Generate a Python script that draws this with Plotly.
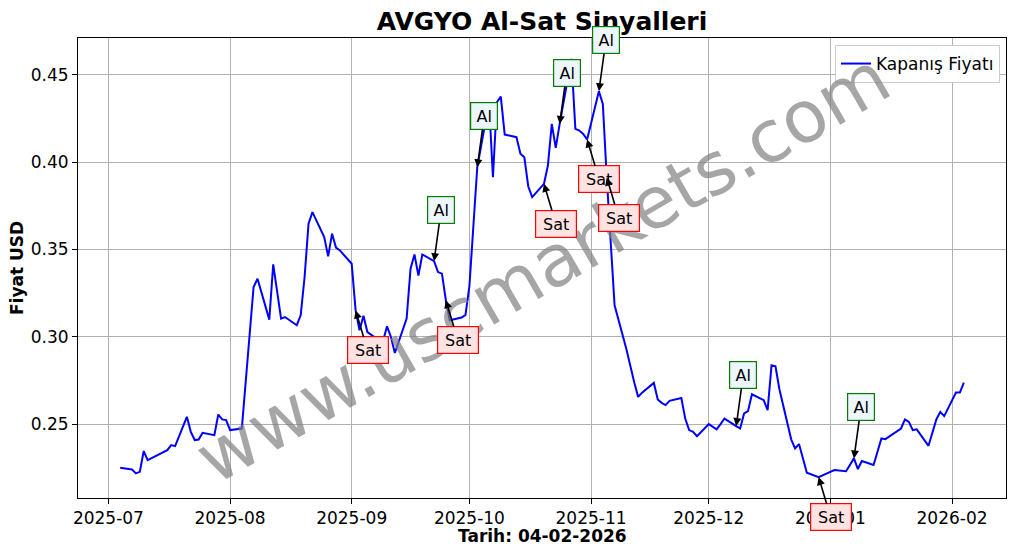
import pandas as pd
import plotly.graph_objects as go

dates = [
    "2025-07-04", "2025-07-07", "2025-07-08", "2025-07-09", "2025-07-10", "2025-07-11",
    "2025-07-16", "2025-07-17", "2025-07-18", "2025-07-21", "2025-07-22", "2025-07-23",
    "2025-07-24", "2025-07-25", "2025-07-28", "2025-07-29", "2025-07-30", "2025-07-31",
    "2025-08-01", "2025-08-04", "2025-08-07", "2025-08-08", "2025-08-11", "2025-08-12",
    "2025-08-14", "2025-08-15", "2025-08-18", "2025-08-19", "2025-08-20", "2025-08-21",
    "2025-08-22", "2025-08-25", "2025-08-26", "2025-08-27", "2025-08-28", "2025-08-29",
    "2025-09-01", "2025-09-02", "2025-09-03", "2025-09-04", "2025-09-05", "2025-09-08",
    "2025-09-09", "2025-09-10", "2025-09-11", "2025-09-12", "2025-09-15", "2025-09-16",
    "2025-09-17", "2025-09-18", "2025-09-19", "2025-09-22", "2025-09-23", "2025-09-24",
    "2025-09-25", "2025-09-26", "2025-09-29", "2025-09-30", "2025-10-01", "2025-10-02",
    "2025-10-03", "2025-10-06", "2025-10-07", "2025-10-08", "2025-10-09", "2025-10-10",
    "2025-10-13", "2025-10-14", "2025-10-15", "2025-10-16", "2025-10-17", "2025-10-20",
    "2025-10-21", "2025-10-22", "2025-10-23", "2025-10-24", "2025-10-27", "2025-10-28",
    "2025-10-29", "2025-10-30", "2025-10-31", "2025-11-03", "2025-11-04", "2025-11-05",
    "2025-11-06", "2025-11-07", "2025-11-10", "2025-11-11", "2025-11-12", "2025-11-13",
    "2025-11-14", "2025-11-17", "2025-11-18", "2025-11-19", "2025-11-20", "2025-11-21",
    "2025-11-24", "2025-11-25", "2025-11-26", "2025-11-27", "2025-11-28", "2025-12-01",
    "2025-12-02", "2025-12-03", "2025-12-04", "2025-12-05", "2025-12-08", "2025-12-09",
    "2025-12-10", "2025-12-11", "2025-12-12", "2025-12-15", "2025-12-16", "2025-12-17",
    "2025-12-18", "2025-12-19", "2025-12-22", "2025-12-23", "2025-12-24", "2025-12-25",
    "2025-12-26", "2025-12-29", "2025-12-30", "2025-12-31", "2026-01-02", "2026-01-05",
    "2026-01-06", "2026-01-07", "2026-01-08", "2026-01-09", "2026-01-12", "2026-01-13",
    "2026-01-14", "2026-01-15", "2026-01-16", "2026-01-19", "2026-01-20", "2026-01-21",
    "2026-01-22", "2026-01-23", "2026-01-26", "2026-01-27", "2026-01-28", "2026-01-29",
    "2026-01-30", "2026-02-02", "2026-02-03", "2026-02-04",
]

prices = [
    0.2250, 0.2241, 0.2218, 0.2227, 0.2346, 0.2294,
    0.2351, 0.2380, 0.2374, 0.2542, 0.2456, 0.2409,
    0.2412, 0.2450, 0.2437, 0.2555, 0.2527, 0.2523,
    0.2466, 0.2475, 0.3285, 0.3332, 0.3098, 0.3414,
    0.3104, 0.3113, 0.3066, 0.3123, 0.3342, 0.3647,
    0.3713, 0.3570, 0.3460, 0.3590, 0.3510, 0.3494,
    0.3418, 0.3151, 0.3037, 0.3120, 0.3027, 0.2980,
    0.2975, 0.3060, 0.2999, 0.2907, 0.3104, 0.3390,
    0.3471, 0.3350, 0.3471, 0.3433, 0.3370, 0.3361,
    0.3209, 0.3094, 0.3110, 0.3125, 0.3290, 0.3650,
    0.3970, 0.4342, 0.3913, 0.4342, 0.4374, 0.4157,
    0.4142, 0.4047, 0.4027, 0.3860, 0.3799, 0.3875,
    0.3980, 0.4218, 0.4081, 0.4218, 0.4590, 0.4190,
    0.4180, 0.4161, 0.4129, 0.4405, 0.4332, 0.3911,
    0.3550, 0.3180, 0.2930, 0.2830, 0.2740, 0.2656,
    0.2680, 0.2736, 0.2641, 0.2622, 0.2609, 0.2633,
    0.2650, 0.2532, 0.2466, 0.2456, 0.2431, 0.2500,
    0.2485, 0.2470, 0.2500, 0.2532, 0.2489, 0.2475,
    0.2561, 0.2574, 0.2671, 0.2637, 0.2580, 0.2837,
    0.2831, 0.2700, 0.2413, 0.2361, 0.2386, 0.2300,
    0.2222, 0.2197, 0.2207, 0.2217, 0.2237, 0.2231,
    0.2265, 0.2304, 0.2243, 0.2289, 0.2266, 0.2340,
    0.2418, 0.2414, 0.2430, 0.2475, 0.2527, 0.2513,
    0.2466, 0.2470, 0.2376, 0.2456, 0.2527, 0.2570,
    0.2546, 0.2681, 0.2681, 0.2738,
]

al_dates = ["2025-09-22", "2025-10-03", "2025-10-24", "2025-11-03", "2025-12-08", "2026-01-07"]
sat_dates = ["2025-09-02", "2025-09-25", "2025-10-20", "2025-10-31", "2025-11-05", "2025-12-29"]

title_text = "AVGYO Al-Sat Sinyalleri"
x_label = "Tarih: 04-02-2026"
y_label = "Fiyat USD"
series_name = "Kapanış Fiyatı"
watermark = "www.uscmarkets.com"

FONT = "DejaVu Sans"

price_map = dict(zip(dates, prices))
dt = pd.to_datetime(dates)
span_x = dt.max() - dt.min()
x_range = [dt.min() - span_x * 0.05, dt.max() + span_x * 0.05]
span_y = max(prices) - min(prices)
y_range = [min(prices) - span_y * 0.05, max(prices) + span_y * 0.05]

# page body has an 8px default margin: figure is sized/placed to compensate
W, H = 1001, 538

fig = go.Figure()
fig.add_trace(go.Scatter(
    x=dates, y=prices, mode="lines", name=series_name,
    line=dict(color="#0000ff", width=2),
))

annotations = []
annotations.append(dict(
    x=0.5, y=0.5, xref="paper", yref="paper", text=watermark, showarrow=False,
    textangle=-30, font=dict(family=FONT, size=72, color="rgba(128,128,128,0.7)"),
    xanchor="center", yanchor="middle",
))
for d in al_dates:
    annotations.append(dict(
        x=d, y=price_map[d], xref="x", yref="y", text="Al", showarrow=True,
        arrowhead=2, arrowsize=1, arrowwidth=1.6, arrowcolor="black",
        ax=7, ay=-51, bgcolor="#eef6fd", bordercolor="green", borderwidth=1.2,
        borderpad=4, width=18, height=18,
        font=dict(family=FONT, size=16, color="black"),
    ))
for d in sat_dates:
    annotations.append(dict(
        x=d, y=price_map[d], xref="x", yref="y", text="Sat", showarrow=True,
        arrowhead=2, arrowsize=1, arrowwidth=1.6, arrowcolor="black",
        ax=12, ay=40, bgcolor="#ffe2e2", bordercolor="red", borderwidth=1.2,
        borderpad=4, width=32, height=18,
        font=dict(family=FONT, size=16, color="black"),
    ))
annotations.append(dict(
    x=0.5, y=0, xref="paper", yref="paper", text="<b>" + x_label + "</b>",
    showarrow=False, yshift=-38, xanchor="center", yanchor="middle",
    font=dict(family=FONT, size=17, color="black"),
))
annotations.append(dict(
    x=0, y=0.5, xref="paper", yref="paper", text="<b>" + y_label + "</b>",
    showarrow=False, xshift=-61, xanchor="center", yanchor="middle", textangle=-90,
    font=dict(family=FONT, size=17, color="black"),
))

fig.update_layout(
    width=W, height=H,
    margin=dict(l=70, r=3, t=30, b=48, autoexpand=False),
    paper_bgcolor="white", plot_bgcolor="white",
    font=dict(family=FONT, size=17, color="black"),
    title=dict(text="<b>" + title_text + "</b>", x=0.5, xref="paper", y=1 - 13 / H,
               yref="container", xanchor="center", yanchor="middle",
               font=dict(family=FONT, size=25, color="black")),
    showlegend=True,
    legend=dict(x=1 - 6 / 928, y=1 - 7 / 460, xanchor="right", yanchor="top",
                bgcolor="white", bordercolor="#cccccc", borderwidth=1,
                font=dict(family=FONT, size=17)),
    annotations=annotations,
)
fig.update_xaxes(
    type="date", range=x_range, tickformat="%Y-%m", dtick="M1", tick0="2025-07-01",
    showgrid=True, gridcolor="#b0b0b0", gridwidth=1, automargin=False,
    showline=True, linecolor="black", linewidth=1, mirror=True,
    ticks="outside", ticklen=5, tickcolor="black", zeroline=False,
    tickfont=dict(family=FONT, size=17),
)
fig.update_yaxes(
    range=y_range, tickformat=".2f", dtick=0.05, tick0=0.25,
    showgrid=True, gridcolor="#b0b0b0", gridwidth=1, automargin=False,
    showline=True, linecolor="black", linewidth=1, mirror=True,
    ticks="outside", ticklen=5, tickcolor="black", zeroline=False,
    tickfont=dict(family=FONT, size=17),
)

fig.write_html("out.html")
